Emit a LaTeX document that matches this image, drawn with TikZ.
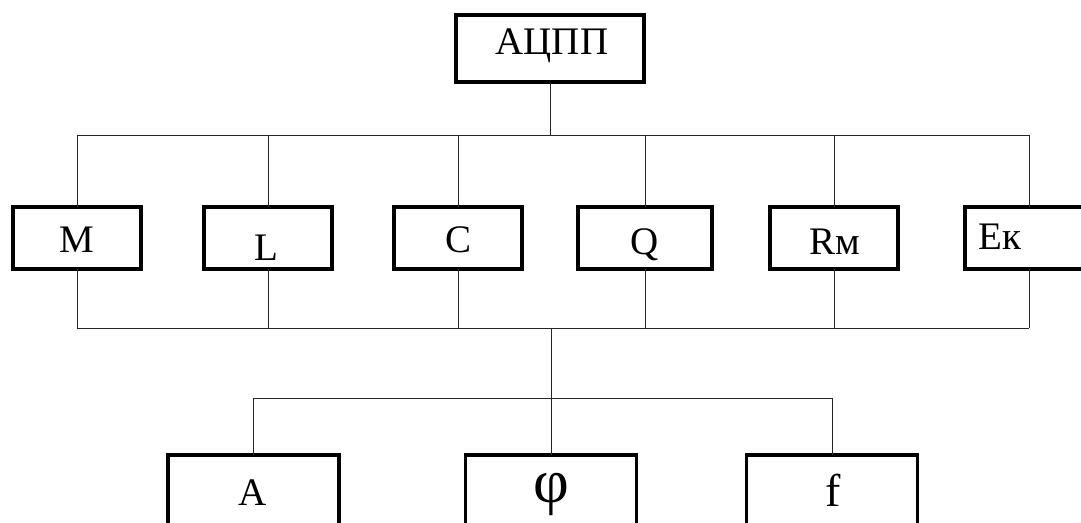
\documentclass[tikz,border=0pt]{standalone}
\usepackage{fontspec}
\setmainfont{Liberation Serif}
\begin{document}
\begin{tikzpicture}[x=1pt,y=-1pt,
  blk/.style={draw=black, line width=3.2pt, fill=white, rectangle, outer sep=0pt, inner sep=0pt},
  rowblk/.style={blk, minimum width=128pt, minimum height=62pt},
  lowblk/.style={blk, minimum width=171pt, minimum height=120pt, anchor=north},
  lbl/.style={inner sep=0pt, font=\fontsize{39}{44}\selectfont},
  wire/.style={line width=1pt, draw=black!85}]
\useasboundingbox (0,0) rectangle (1081,522);
\clip (0,0) rectangle (1081,522);

% bus levels
\coordinate (busA) at (550,135);
\coordinate (busB) at (551,328);
\coordinate (busC) at (551,398);

% top block
\node[blk, minimum width=188pt, minimum height=67pt] (top) at (550,48.5) {};
\node[lbl] (ttop) at (552,46) {АЦПП};

% parameter row
\node[rowblk] (m)  at (77,238)   {};
\node[rowblk] (l)  at (268,238)  {};
\node[rowblk] (c)  at (458,238)  {};
\node[rowblk, minimum width=134pt] (q) at (645,238) {};
\node[rowblk] (r)  at (834,238)  {};
\node[rowblk] (e)  at (1029,238) {};
\node[lbl] (tm) at (77,240)   {M};
\node[lbl] (tl) at (266,248)  {L};
\node[lbl] (tc) at (458,240)  {C};
\node[lbl] (tq) at (645,245)  {Q};
\node[lbl] (tr) at (835,242)  {Rм};
\node[lbl] (te) at (1000,237) {Eк};

% output row
\node[lowblk] (a)   at (253.5,455) {};
\node[lowblk] (phi) at (551,455)   {};
\node[lowblk] (f)   at (832,455)   {};
\node[lbl] (ta) at (253,493) {А};
\node[lbl, font=\fontsize{62}{66}\selectfont] (tphi) at (551,494) {φ};
\node[lbl, font=\fontsize{46}{50}\selectfont] (tf) at (833,490) {f};

% upper distribution bus
\draw[wire] (top.south) -- (top.south |- busA);
\draw[wire] (m.north |- busA) -- (e.north |- busA);
\foreach \n in {m,l,c,q,r,e}
  \draw[wire] (\n.north) -- (\n.north |- busA);

% lower collecting bus
\draw[wire] (m.south |- busB) -- (e.south |- busB);
\foreach \n in {m,l,c,q,r,e}
  \draw[wire] (\n.south) -- (\n.south |- busB);
\draw[wire] (busB) -- (busC);

% output distribution bus
\draw[wire] (a.north |- busC) -- (f.north |- busC);
\foreach \n in {a,phi,f}
  \draw[wire] (\n.north |- busC) -- (\n.north);
\end{tikzpicture}
\end{document}
